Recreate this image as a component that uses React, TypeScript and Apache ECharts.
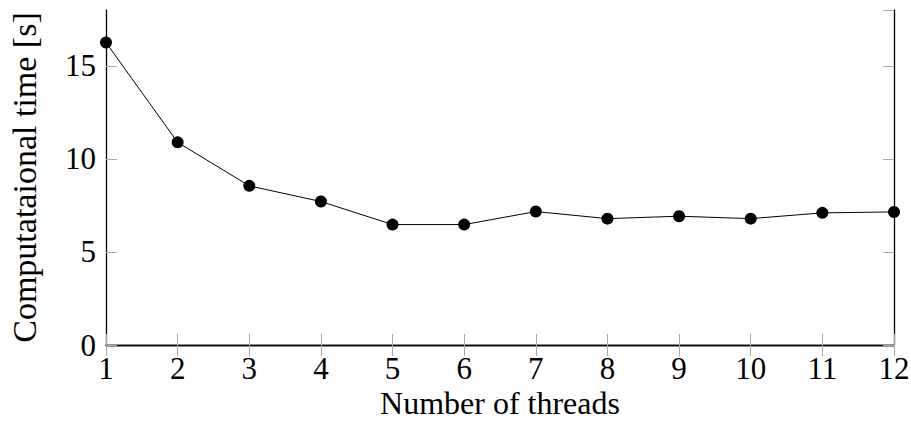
import React, { useEffect, useRef } from "react";
import * as echarts from "echarts";

const threads = [1, 2, 3, 4, 5, 6, 7, 8, 9, 10, 11, 12];
const times = [16.25, 10.89, 8.55, 7.71, 6.47, 6.47, 7.17, 6.79, 6.92, 6.79, 7.1, 7.15];
const xLabel = "Number of threads";
const yLabel = "Computataional time [s]";

const FONT = "'Liberation Serif', serif";

export default function App() {
  const ref = useRef<HTMLDivElement>(null);
  useEffect(() => {
    const chart = echarts.init(ref.current!, undefined, { renderer: "svg" });
    const tickStyle = { show: true, inside: true, length: 11, lineStyle: { color: "#a8a8a8", width: 1 } };
    const lineStyle = { show: true, lineStyle: { color: "#000", width: 1.3 } };
    chart.setOption({
      animation: false,
      backgroundColor: "#fff",
      grid: { left: 106, right: 17, top: 10, bottom: 76, containLabel: false, outerBoundsMode: "none" },
      xAxis: [
        {
          type: "value",
          min: 1,
          max: 12,
          interval: 1,
          name: xLabel,
          nameLocation: "middle",
          nameGap: 42,
          nameMoveOverlap: false,
          nameTextStyle: { fontFamily: FONT, fontSize: 32, lineHeight: 32, color: "#000" },
          axisLine: lineStyle,
          axisTick: tickStyle,
          splitLine: { show: false },
          axisLabel: { fontFamily: FONT, fontSize: 31, color: "#000", margin: 8 },
        },
        {
          type: "value",
          position: "top",
          min: 1,
          max: 12,
          interval: 1,
          axisLine: lineStyle,
          axisTick: tickStyle,
          splitLine: { show: false },
          axisLabel: { show: false },
        },
      ],
      yAxis: [
        {
          type: "value",
          min: 0,
          max: 18,
          interval: 5,
          name: yLabel,
          nameLocation: "middle",
          nameGap: 67,
          nameTextStyle: { fontFamily: FONT, fontSize: 34, lineHeight: 30, color: "#000" },
          axisLine: lineStyle,
          axisTick: tickStyle,
          splitLine: { show: false },
          axisLabel: { fontFamily: FONT, fontSize: 31, color: "#000", margin: 10, showMaxLabel: false },
        },
        {
          type: "value",
          position: "right",
          min: 0,
          max: 18,
          interval: 5,
          axisLine: lineStyle,
          axisTick: tickStyle,
          splitLine: { show: false },
          axisLabel: { show: false },
        },
      ],
      series: [
        {
          type: "line",
          data: threads.map((t, i) => [t, times[i]]),
          symbol: "circle",
          symbolSize: 12,
          itemStyle: { color: "#000" },
          lineStyle: { color: "#000", width: 1 },
          clip: false,
        },
      ],
    });
    return () => chart.dispose();
  }, []);
  return <div ref={ref} style={{ width: 911, height: 421, position: "absolute", left: 0, top: 0 }} />;
}
